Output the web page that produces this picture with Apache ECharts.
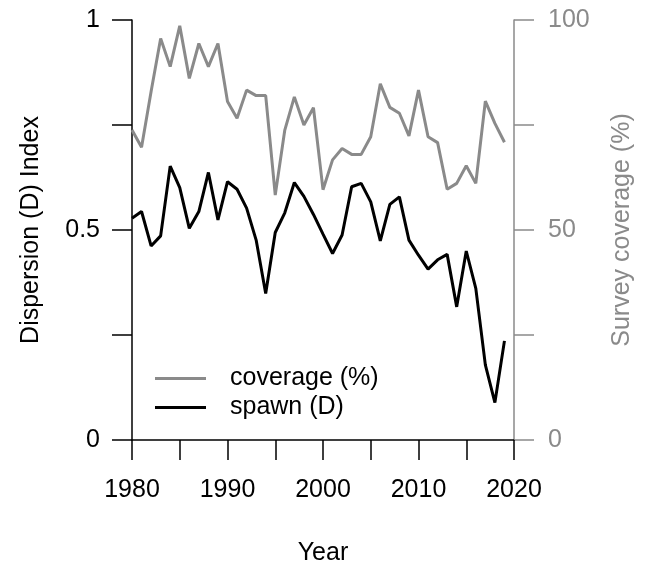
<!DOCTYPE html>
<html>
<head>
<meta charset="utf-8">
<script src="https://cdn.jsdelivr.net/npm/echarts@6/dist/echarts.min.js"></script>
<style>
  html, body { margin: 0; padding: 0; background: #fff; }
  #chart { width: 645px; height: 567px; }
</style>
</head>
<body>
<div id="chart"></div>
<script>
// Annual series, 1980-2019
const years = [
  1980, 1981, 1982, 1983, 1984, 1985, 1986, 1987, 1988, 1989,
  1990, 1991, 1992, 1993, 1994, 1995, 1996, 1997, 1998, 1999,
  2000, 2001, 2002, 2003, 2004, 2005, 2006, 2007, 2008, 2009,
  2010, 2011, 2012, 2013, 2014, 2015, 2016, 2017, 2018, 2019
];

// Survey coverage (%)
const coverage = [
  73.8, 69.7, 83.0, 95.6, 88.9, 98.6, 86.1, 94.4, 88.9, 94.4,
  80.6, 76.6, 83.3, 82.0, 82.0, 58.3, 73.8, 81.7, 75.0, 79.1,
  59.6, 66.7, 69.4, 68.0, 68.0, 72.2, 84.8, 79.2, 77.8, 72.4,
  83.3, 72.2, 70.8, 59.7, 61.1, 65.3, 61.1, 80.7, 75.4, 70.9
];

// Dispersion (D) index of spawning
const spawn = [
  0.528, 0.544, 0.462, 0.486, 0.652, 0.601, 0.504, 0.544, 0.637, 0.524,
  0.615, 0.597, 0.552, 0.476, 0.349, 0.494, 0.541, 0.613, 0.580, 0.537,
  0.490, 0.444, 0.488, 0.603, 0.611, 0.567, 0.474, 0.561, 0.579, 0.476,
  0.440, 0.407, 0.429, 0.442, 0.317, 0.450, 0.361, 0.179, 0.089, 0.236
];

const leftTickLabels = { 0: '0', 0.5: '0.5', 1: '1' };
const rightTickLabels = { 0: '0', 50: '50', 100: '100' };

const FONT = '"Liberation Sans", Arial, Helvetica, sans-serif';
const GREY = '#8a8a8a';
const BLACK = '#000000';

const chart = echarts.init(document.getElementById('chart'), null, { renderer: 'canvas' });

chart.setOption({
  animation: false,
  backgroundColor: '#ffffff',
  textStyle: { fontFamily: FONT },
  grid: {
    left: 132, right: 131, top: 20, bottom: 127,
    containLabel: false,
    outerBoundsMode: 'none'
  },
  legend: {
    orient: 'vertical',
    left: 155,
    top: 366,
    padding: 0,
    itemGap: 4,
    itemWidth: 51,
    itemHeight: 3,
    icon: 'rect',
    data: ['coverage (%)', 'spawn (D)'],
    textStyle: {
      fontFamily: FONT,
      fontSize: 25,
      lineHeight: 25,
      color: BLACK,
      padding: [0, 0, 0, 19]
    }
  },
  xAxis: {
    type: 'value',
    min: 1980,
    max: 2020,
    interval: 5,
    name: 'Year',
    nameLocation: 'middle',
    nameGap: 101,
    nameTextStyle: { fontFamily: FONT, fontSize: 25, color: BLACK },
    axisLine: { show: true, onZero: false, lineStyle: { color: BLACK, width: 1.5 } },
    axisTick: { show: true, inside: false, length: 20, lineStyle: { color: BLACK, width: 1.5 } },
    axisLabel: {
      margin: 38,
      fontFamily: FONT,
      fontSize: 25,
      color: BLACK,
      formatter: v => (v % 10 === 0 ? String(v) : '')
    },
    splitLine: { show: false }
  },
  yAxis: [
    {
      type: 'value',
      position: 'left',
      min: 0,
      max: 1,
      interval: 0.25,
      name: 'Dispersion (D) Index',
      nameLocation: 'middle',
      nameGap: 88,
      nameRotate: 90,
      nameTextStyle: { fontFamily: FONT, fontSize: 25, color: BLACK },
      axisLine: { show: true, onZero: false, lineStyle: { color: BLACK, width: 1.5 } },
      axisTick: { show: true, inside: false, length: 20, lineStyle: { color: BLACK, width: 1.5 } },
      axisLabel: {
        margin: 32,
        fontFamily: FONT,
        fontSize: 25,
        color: BLACK,
        formatter: v => (leftTickLabels[v] !== undefined ? leftTickLabels[v] : '')
      },
      splitLine: { show: false }
    },
    {
      type: 'value',
      position: 'right',
      min: 0,
      max: 100,
      interval: 25,
      name: 'Survey coverage (%)',
      nameLocation: 'middle',
      nameGap: 96,
      nameRotate: 90,
      nameTextStyle: { fontFamily: FONT, fontSize: 25, color: GREY },
      axisLine: { show: true, onZero: false, lineStyle: { color: GREY, width: 1.5 } },
      axisTick: { show: true, inside: false, length: 20, lineStyle: { color: GREY, width: 1.5 } },
      axisLabel: {
        margin: 34,
        fontFamily: FONT,
        fontSize: 25,
        color: GREY,
        formatter: v => (rightTickLabels[v] !== undefined ? rightTickLabels[v] : '')
      },
      splitLine: { show: false }
    }
  ],
  series: [
    {
      name: 'coverage (%)',
      type: 'line',
      yAxisIndex: 1,
      data: years.map((y, i) => [y, coverage[i]]),
      showSymbol: false,
      symbol: 'none',
      color: GREY,
      lineStyle: { color: GREY, width: 3 },
      z: 2
    },
    {
      name: 'spawn (D)',
      type: 'line',
      yAxisIndex: 0,
      data: years.map((y, i) => [y, spawn[i]]),
      showSymbol: false,
      symbol: 'none',
      color: BLACK,
      lineStyle: { color: BLACK, width: 3 },
      z: 3
    }
  ]
});
</script>
</body>
</html>
